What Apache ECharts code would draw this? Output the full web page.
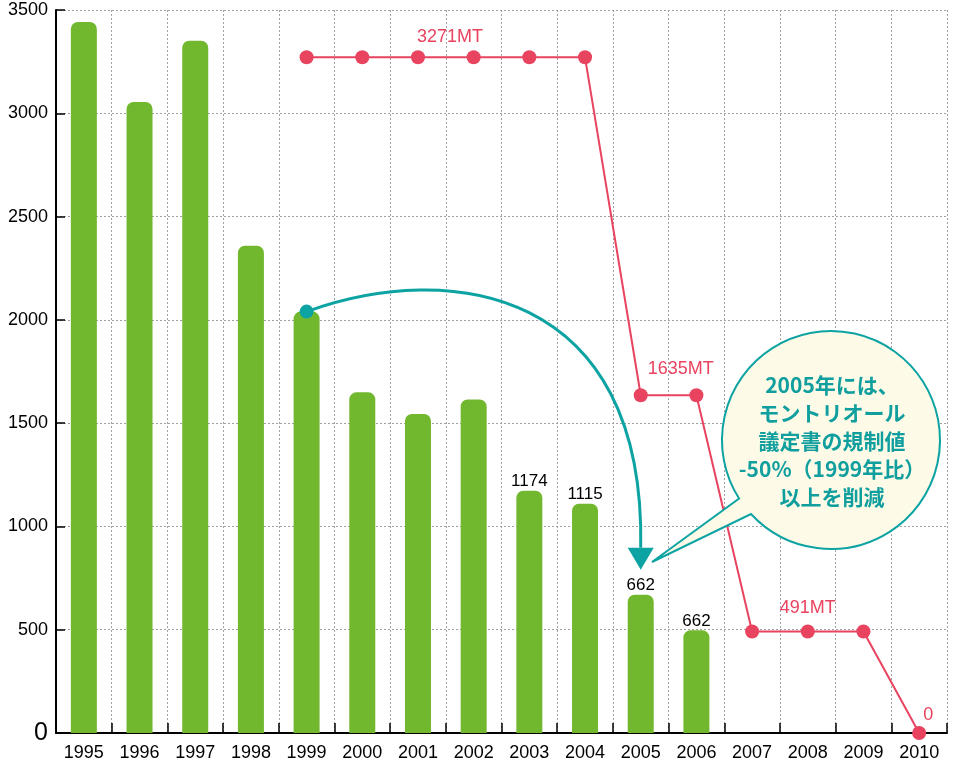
<!DOCTYPE html>
<html><head><meta charset="utf-8">
<script src="https://cdn.jsdelivr.net/npm/echarts@6/dist/echarts.min.js"></script>
<style>html,body{margin:0;padding:0;background:#fff}#c{width:953px;height:760px}</style>
</head><body><div id="c"></div>
<script>
// ---- data ----
const years = ['1995','1996','1997','1998','1999','2000','2001','2002','2003','2004','2005','2006','2007','2008','2009','2010'];
const barValues = [3442,3055,3351,2359,2040,1649,1544,1615,1173,1110,669,497,null,null,null,null];
const barLabels = ['','','','','','','','','1174','1115','662','662','','','',''];
const limitValues = [null,null,null,null,3271,3271,3271,3271,3271,3271,1635,1635,491,491,491,0];
const limitLabels = ['','','','','','','3271MT','','','','1635MT','','','491MT','','0'];
const yTicks = [0,500,1000,1500,2000,2500,3000,3500];
const calloutLines = ['2005年には、','モントリオール','議定書の規制値','-50%（1999年比）','以上を削減'];

const GREEN = '#72b82e', RED = '#e8435f', TEAL = '#0da3a3';
const limitLabelOffsets = {6:[32,2], 10:[40,-4], 13:[0,-2], 15:[9,4]};

// custom shape: round speech bubble with a pointed tail
const Bubble = echarts.graphic.extendShape({
  shape:{cx:0, cy:0, r:0, a1:0, a2:0, tx:0, ty:0},
  buildPath(ctx, s){
    ctx.moveTo(s.cx + s.r*Math.cos(s.a1), s.cy + s.r*Math.sin(s.a1));
    ctx.arc(s.cx, s.cy, s.r, s.a1, s.a2, false);
    ctx.lineTo(s.tx, s.ty);
    ctx.closePath();
  }
});
echarts.graphic.registerShape('bubble', Bubble);

const chart = echarts.init(document.getElementById('c'), null, {renderer:'canvas'});
const FONT = '"Liberation Sans", Arial, Helvetica, sans-serif';

chart.setOption({
  animation:false,
  backgroundColor:'#fff',
  grid:{left:56, right:6, top:10, bottom:27, containLabel:false, outerBoundsMode:'none'},
  xAxis:{
    type:'category', data:years, boundaryGap:true,
    axisLine:{show:true, lineStyle:{color:'#000', width:2}},
    axisTick:{show:true, inside:true, length:10, lineStyle:{color:'#000', width:1.5}},
    axisLabel:{color:'#000', fontSize:18, fontFamily:FONT, margin:11, interval:0},
    splitLine:{show:true, lineStyle:{color:'#a0a0a0', width:1, type:[2,2]}}
  },
  yAxis:{
    type:'value', min:yTicks[0], max:yTicks[yTicks.length-1], interval:500,
    axisLine:{show:true, lineStyle:{color:'#000', width:2}},
    axisTick:{show:true, inside:true, length:9, lineStyle:{color:'#000', width:1.5}},
    axisLabel:{color:'#000', fontSize:18, fontFamily:FONT, margin:8,
      formatter:v => v===0 ? '{big|0}' : String(v),
      rich:{big:{fontSize:25, fontFamily:FONT, color:'#000'}}},
    splitLine:{show:true, lineStyle:{color:'#a0a0a0', width:1, type:[2,2]}}
  },
  series:[
    {
      type:'bar', barWidth:26, z:2,
      data:barValues.map((v,i)=>({value:v, label:{show: barLabels[i]!=='', formatter: barLabels[i]}})),
      itemStyle:{color:GREEN, borderRadius:[7,7,0,0]},
      label:{position:'top', distance:1, color:'#000', fontSize:17, fontFamily:FONT}
    },
    {
      type:'line', z:5,
      data:limitValues.map((v,i)=>({value:v, label:{show: limitLabels[i]!=='', formatter: limitLabels[i], offset: limitLabelOffsets[i] || [0,0]}})),
      lineStyle:{color:RED, width:2},
      itemStyle:{color:RED},
      symbol:'circle', symbolSize:14, showAllSymbol:true,
      label:{position:'top', distance:6, color:RED, fontSize:18, fontFamily:FONT}
    }
  ]
});

// annotation anchored on the chart scales
const start = chart.convertToPixel({xAxisIndex:0, yAxisIndex:0}, [years[4], barValues[4]]);
const tip = chart.convertToPixel({xAxisIndex:0, yAxisIndex:0}, [years[10], 790]);
const headH = 22, headW = 13;
const endY = tip[1]-headH;
const cx = 831, cy = 440, r = 109;
const a1 = Math.atan2(498-cy, 740-cx);
const a2 = Math.atan2(514-cy, 751-cx) + Math.PI*2;

chart.setOption({
  graphic:[
    {type:'bezierCurve', z:100, shape:{x1:start[0], y1:start[1], cpx1:start[0]+143, cpy1:start[1]-52, cpx2:tip[0]+5, cpy2:start[1]-24, x2:tip[0], y2:endY},
      style:{stroke:TEAL, lineWidth:3, fill:null}},
    {type:'polygon', z:100, shape:{points:[[tip[0]-headW, endY],[tip[0]+headW, endY],[tip[0], tip[1]]]}, style:{fill:TEAL}},
    {type:'circle', z:101, shape:{cx:start[0], cy:start[1], r:7}, style:{fill:TEAL}},
    {type:'bubble', z:102, shape:{cx:cx, cy:cy, r:r, a1:a1, a2:a2, tx:652, ty:562}, style:{fill:'#fdfbe7', stroke:TEAL, lineWidth:2}},
    {type:'text', z:103, x:cx+1, y:371,
      style:{text:calloutLines.join('\n'), font:'bold 21px "Noto Sans CJK JP", sans-serif', fill:'#109e9e',
        align:'center', textAlign:'center', verticalAlign:'top', textVerticalAlign:'top', lineHeight:28}}
  ]
});
</script></body></html>
